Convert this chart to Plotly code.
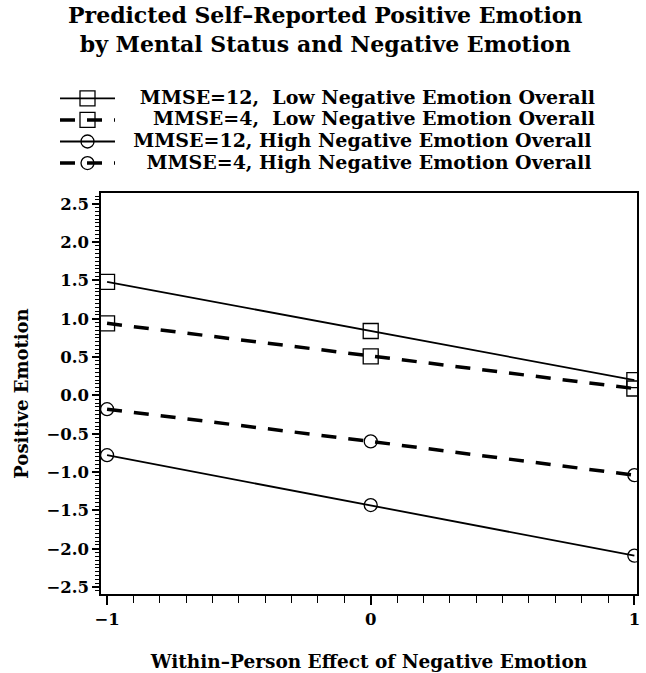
import plotly.graph_objects as go

x_vals = [-1, 0, 1]
labels = [
    "MMSE=12,\u00a0\u00a0Low Negative Emotion Overall",
    "MMSE=4,\u00a0\u00a0Low Negative Emotion Overall",
    "MMSE=12, High Negative Emotion Overall",
    "MMSE=4, High Negative Emotion Overall",
]
label_pad = [3, 5, 2, 4]
mmse12_low = [1.48, 0.84, 0.20]
mmse4_low = [0.94, 0.51, 0.09]
mmse12_high = [-0.78, -1.43, -2.09]
mmse4_high = [-0.18, -0.60, -1.04]
y_ticks = [2.5, 2.0, 1.5, 1.0, 0.5, 0.0, -0.5, -1.0, -1.5, -2.0, -2.5]
x_ticks = [-1, 0, 1]

series = [mmse12_low, mmse4_low, mmse12_high, mmse4_high]
symbols = ["square-open", "square-open", "circle-open", "circle-open"]
sizes = [15, 15, 13, 13]
dashes = ["solid", "15px,12px", "solid", "15px,12px"]
widths = [1.8, 3.5, 1.8, 3.5]

FONT = "DejaVu Serif"

fig = go.Figure()
for name, pad, ys, sym, sz, dash, w in zip(labels, label_pad, series, symbols, sizes, dashes, widths):
    shown = '<span style="font-size:19px;font-weight:bold">' + "\u00a0" * pad + name + "</span>"
    fig.add_trace(go.Scatter(
        x=x_vals, y=ys, name=shown, mode="lines+markers",
        line=dict(color="black", width=w, dash=dash),
        marker=dict(symbol=sym, size=sz, color="black", line=dict(color="black", width=1.3)),
    ))

fig.add_annotation(
    text="Predicted Self–Reported Positive Emotion<br>by Mental Status and Negative Emotion",
    xref="paper", yref="paper", x=(325 - 101) / 536, y=(594 - 29.5) / 401,
    xanchor="center", yanchor="middle", showarrow=False,
    font=dict(family=FONT, size=22, color="black", weight="bold"),
)

fig.update_layout(
    width=646, height=673,
    margin=dict(l=101, r=9, t=193, b=79),
    paper_bgcolor="white", plot_bgcolor="white",
    font=dict(family=FONT, color="black", size=14),
    legend=dict(
        x=(55 - 101) / 536, y=(594 - 82.5) / 401, xanchor="left", yanchor="top",
        font=dict(family=FONT, size=14.3, color="black"),
        itemwidth=55, tracegroupgap=0, bgcolor="rgba(0,0,0,0)",
    ),
    showlegend=True,
)

fig.update_xaxes(
    range=[-1.023, 1.01], tickvals=x_ticks, ticktext=[str(v).replace("-", "−") for v in x_ticks],
    automargin=False,
    showgrid=False, zeroline=False, showline=True, linecolor="black", linewidth=1.5, mirror=True,
    ticks="outside", ticklen=9, tickwidth=1.5, tickcolor="black",
    minor=dict(dtick=0.1, ticks="outside", ticklen=7, tickwidth=1.2, tickcolor="black", showgrid=False),
    tickfont=dict(family=FONT, size=16.5, color="black", weight="bold"),
    title=dict(text="Within–Person Effect of Negative Emotion", standoff=28,
               font=dict(family=FONT, size=18.5, color="black", weight="bold")),
)
fig.update_yaxes(
    range=[-2.59, 2.64], tickvals=y_ticks, tickformat=".1f",
    automargin=False,
    showgrid=False, zeroline=False, showline=True, linecolor="black", linewidth=1.5, mirror=True,
    ticks="outside", ticklen=7, tickwidth=1.5, tickcolor="black",
    minor=dict(dtick=0.05, ticks="outside", ticklen=4, tickwidth=1, tickcolor="black", showgrid=False),
    tickfont=dict(family=FONT, size=16.5, color="black", weight="bold"),
    title=dict(text="Positive Emotion", standoff=13,
               font=dict(family=FONT, size=18, color="black", weight="bold")),
)

fig.write_html("out.html", config={"displayModeBar": False},
               post_script="document.body.style.margin='0';")
